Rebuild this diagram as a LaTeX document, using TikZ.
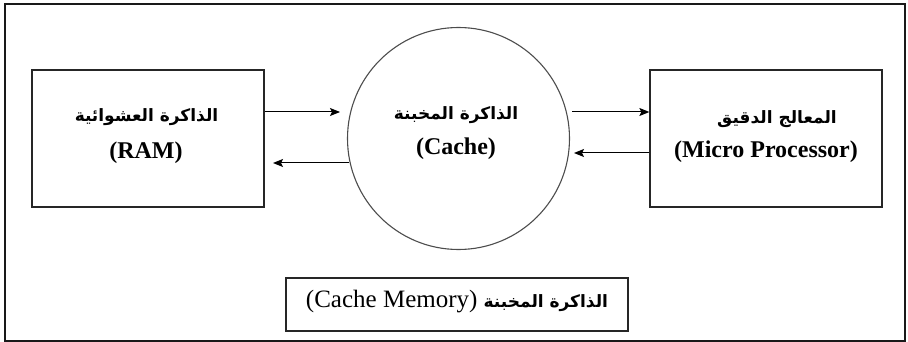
\documentclass[tikz,border=0pt]{standalone}
\usepackage{fontspec}
\setmainfont{Liberation Serif}
\newfontfamily\arabicfont[Script=Arabic]{DejaVu Sans}
\TeXXeTstate=1
\usetikzlibrary{arrows.meta}
\begin{document}
\begin{tikzpicture}[x=1pt,y=-1pt,
  frame/.style={draw=black!90,line width=2pt},
  unit/.style={draw=black!85,line width=1.3pt,minimum width=232pt,minimum height=137pt,inner sep=0pt},
  cachenode/.style={circle,draw=black!70,line width=1.1pt,minimum size=222pt,inner sep=0pt},
  caption/.style={draw=black!85,line width=1.3pt,minimum width=342pt,minimum height=53pt,inner sep=0pt},
  ar/.style={font=\arabicfont\bfseries\fontsize{17}{20}\selectfont,inner sep=0pt},
  en/.style={font=\bfseries\fontsize{24}{28}\selectfont,inner sep=0pt},
  flow/.style={line width=1pt,-{Stealth[length=10pt,width=8pt,inset=2pt]}}]
\useasboundingbox (0,0) rectangle (908,342);
\draw[frame] (5,4) rectangle (905,341);

% main units
\node[unit] (ram) at (148,138.5) {};
\node[cachenode] (cache) at (458.5,138.5) {};
\node[unit] (cpu) at (766,138.5) {};
\node[caption] (cap) at (457,304.5) {};

% labels
\node[ar] (ramA) at (146.5,117) {\beginR الذاكرة العشوائية\endR};
\node[en] (ramE) at (146,153) {(RAM)};
\node[ar] (cacheA) at (456,115) {\beginR الذاكرة المخبنة\endR};
\node[en] (cacheE) at (456,149) {(Cache)};
\node[ar] (cpuA) at (777,119) {\beginR المعالج الدقيق\endR};
\node[en] (cpuE) at (766,152) {(Micro Processor)};
\node[inner sep=0pt,font=\fontsize{25}{29}\selectfont] (capT) at (457,302)
  {(Cache Memory) {\arabicfont\bfseries\fontsize{17}{20}\selectfont\beginR الذاكرة المخبنة\endR}};

% free ends of the connectors
\coordinate (t1) at (340,112);
\coordinate (s2) at (349,163);
\coordinate (t2) at (273,163);
\coordinate (s3) at (572,112);
\coordinate (t4) at (574,153);

\draw[flow] (ram.east |- t1) -- (t1);
\draw[flow] (s2) -- (t2);
\draw[flow] (s3) -- (cpu.west |- s3);
\draw[flow] (cpu.west |- t4) -- (t4);
\end{tikzpicture}
\end{document}
